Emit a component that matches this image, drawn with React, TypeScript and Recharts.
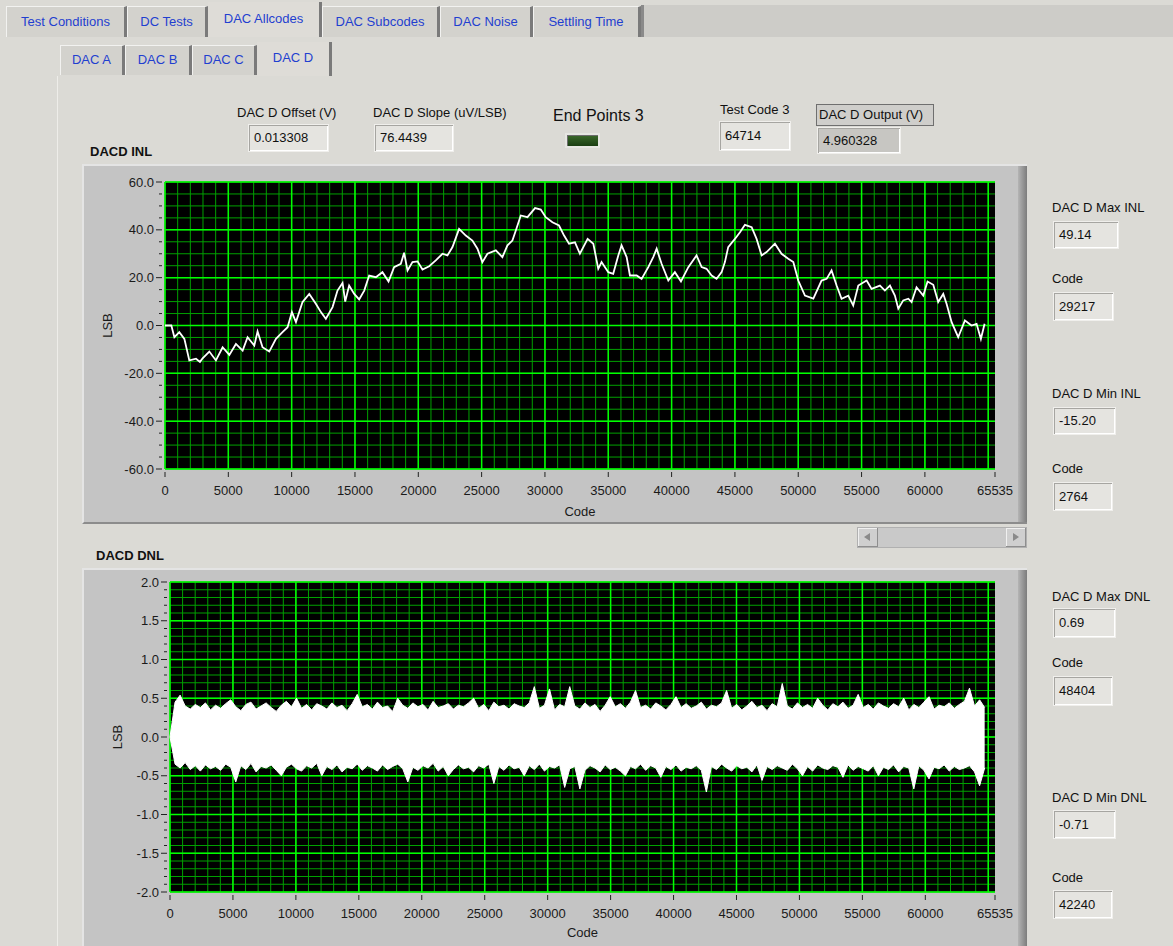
import React from "react";
import { LineChart, Line, AreaChart, Area, XAxis, YAxis, CartesianGrid, Label } from "recharts";

// ---- data ----
const INL_CODES = [
  0, 500, 740, 1130, 1530, 1920, 2450, 2760, 2970, 3500,
  4020, 4550, 5080, 5600, 6130, 6520, 7050, 7310, 7700, 8230,
  8760, 9280, 9680, 10020, 10340, 10860, 11390, 11910, 12310, 12700,
  13230, 13620, 14020, 14230, 14540, 14940, 15330, 15730, 16120, 16650,
  17170, 17650, 18090, 18620, 18880, 19150, 19540, 19940, 20330, 20860,
  21380, 21910, 22300, 22700, 23220, 23750, 24270, 24670, 25060, 25460,
  26120, 26640, 27040, 27430, 27700, 28090, 28620, 29220, 29670, 30060,
  30590, 31110, 31510, 31900, 32370, 32760, 33370, 33820, 34210, 34470,
  35000, 35390, 35790, 36050, 36450, 36710, 37240, 37630, 38160, 38550,
  38820, 39210, 39740, 40260, 40740, 41320, 41970, 42370, 42760, 43160,
  43550, 43950, 44210, 44470, 45000, 45400, 45790, 46320, 46710, 47110,
  47500, 48160, 48680, 49210, 49610, 50000, 50530, 51190, 51840, 52240,
  52630, 53030, 53420, 53950, 54340, 54740, 55400, 55790, 56450, 56840,
  57240, 57630, 57900, 58290, 58690, 58950, 59340, 59870, 60210, 60660,
  61050, 61450, 61710, 62110, 62630, 63160, 63680, 64080, 64420, 64714,
];
const INL_VALUES = [
  0, 0, -4.9, -2.8, -5.6, -14.6, -13.9, -15.2, -13.7, -10.9,
  -14.6, -9.1, -12.3, -7.7, -10.5, -4.9, -8.4, -2.5, -9.1, -10.9,
  -5.6, -2.8, -0.7, 5.6, 1.4, 9.8, 13.2, 9.1, 5.6, 2.8,
  7.7, 14.6, 17.8, 10.0, 16.7, 13.2, 10.9, 14.6, 20.9, 20.2,
  22.3, 18.4, 24.4, 25.8, 30.4, 23.0, 26.5, 26.8, 23.4, 24.8,
  27.2, 30.0, 29.3, 32.8, 40.4, 37.6, 35.5, 32.1, 26.5, 30.0,
  31.4, 28.6, 33.5, 35.5, 39.7, 46.0, 45.3, 49.1, 48.5, 45.3,
  43.2, 41.8, 37.6, 34.2, 34.8, 30.0, 36.2, 34.2, 23.7, 26.5,
  22.3, 21.6, 29.3, 33.5, 28.6, 20.9, 20.9, 19.5, 24.4, 28.6,
  32.1, 25.8, 18.8, 22.3, 18.4, 24.4, 29.3, 24.4, 23.7, 20.9,
  19.5, 22.3, 26.5, 32.8, 36.2, 39.0, 42.1, 41.1, 36.2, 29.3,
  30.7, 34.2, 30.0, 27.9, 26.5, 18.8, 12.5, 11.2, 18.8, 19.5,
  23.0, 16.7, 11.2, 12.5, 8.4, 16.7, 18.8, 15.3, 16.7, 14.6,
  16.7, 12.5, 7.0, 10.5, 11.2, 9.8, 16.0, 12.5, 18.4, 17.0,
  9.8, 13.2, 9.1, 1.4, -4.9, 2.1, 0.0, 0.7, -5.6, 0.7,
];

// DNL envelope (upper / lower edge), codes evenly spaced up to the last code
const DNL_LAST_CODE = 64714;
const DNL_HIGH = [
  0, 0.45, 0.54, 0.40, 0.36, 0.42, 0.38, 0.44, 0.35, 0.41,
  0.37, 0.43, 0.48, 0.39, 0.34, 0.42, 0.45, 0.36, 0.40, 0.44,
  0.38, 0.33, 0.41, 0.46, 0.39, 0.50, 0.37, 0.42, 0.35, 0.43,
  0.40, 0.36, 0.44, 0.38, 0.41, 0.34, 0.43, 0.55, 0.39, 0.42,
  0.36, 0.45, 0.38, 0.40, 0.33, 0.50, 0.41, 0.37, 0.44, 0.39,
  0.42, 0.35, 0.46, 0.38, 0.40, 0.43, 0.36, 0.41, 0.39, 0.44,
  0.50, 0.37, 0.42, 0.34, 0.45, 0.39, 0.41, 0.36, 0.43, 0.40,
  0.38, 0.44, 0.65, 0.37, 0.41, 0.62, 0.35, 0.42, 0.39, 0.65,
  0.40, 0.36, 0.44, 0.38, 0.42, 0.33, 0.41, 0.52, 0.39, 0.43,
  0.37, 0.45, 0.60, 0.38, 0.41, 0.36, 0.44, 0.40, 0.35, 0.42,
  0.52, 0.38, 0.43, 0.37, 0.40, 0.45, 0.36, 0.41, 0.39, 0.44,
  0.60, 0.37, 0.42, 0.35, 0.40, 0.46, 0.38, 0.41, 0.34, 0.43,
  0.39, 0.69, 0.40, 0.36, 0.44, 0.38, 0.42, 0.37, 0.50, 0.41,
  0.35, 0.43, 0.39, 0.45, 0.37, 0.41, 0.55, 0.38, 0.42, 0.36,
  0.44, 0.40, 0.37, 0.43, 0.39, 0.50, 0.35, 0.42, 0.38, 0.45,
  0.52, 0.36, 0.41, 0.39, 0.44, 0.37, 0.42, 0.46, 0.63, 0.40,
  0.48, 0.38,
];
const DNL_LOW = [
  0, -0.35, -0.40, -0.33, -0.42, -0.37, -0.44, -0.36, -0.41, -0.38,
  -0.43, -0.35, -0.39, -0.58, -0.37, -0.42, -0.34, -0.45, -0.38, -0.40,
  -0.36, -0.43, -0.50, -0.39, -0.35, -0.41, -0.44, -0.37, -0.40, -0.34,
  -0.50, -0.38, -0.42, -0.36, -0.45, -0.39, -0.41, -0.35, -0.43, -0.37,
  -0.40, -0.44, -0.36, -0.42, -0.38, -0.35, -0.41, -0.58, -0.39, -0.43,
  -0.37, -0.40, -0.34, -0.44, -0.38, -0.50, -0.42, -0.36, -0.41, -0.39,
  -0.45, -0.37, -0.40, -0.35, -0.60, -0.38, -0.43, -0.36, -0.41, -0.39,
  -0.50, -0.37, -0.42, -0.35, -0.44, -0.38, -0.40, -0.36, -0.65, -0.41,
  -0.38, -0.67, -0.43, -0.37, -0.40, -0.45, -0.36, -0.42, -0.39, -0.44,
  -0.50, -0.38, -0.41, -0.35, -0.43, -0.37, -0.40, -0.52, -0.38, -0.42,
  -0.36, -0.44, -0.39, -0.41, -0.37, -0.43, -0.71, -0.38, -0.42, -0.35,
  -0.40, -0.44, -0.37, -0.41, -0.39, -0.45, -0.36, -0.56, -0.38, -0.42,
  -0.37, -0.40, -0.43, -0.35, -0.41, -0.50, -0.38, -0.44, -0.36, -0.40,
  -0.42, -0.37, -0.39, -0.52, -0.36, -0.43, -0.38, -0.41, -0.44, -0.37,
  -0.50, -0.39, -0.42, -0.36, -0.45, -0.38, -0.40, -0.67, -0.37, -0.43,
  -0.54, -0.39, -0.41, -0.36, -0.44, -0.38, -0.42, -0.40, -0.37, -0.45,
  -0.63, -0.40,
];

const X_LABELS = [0, 5000, 10000, 15000, 20000, 25000, 30000, 35000, 40000, 45000, 50000, 55000, 60000, 65535];
const INL_Y_LABELS = [-60, -40, -20, 0, 20, 40, 60];
const DNL_Y_LABELS = [-2, -1.5, -1, -0.5, 0, 0.5, 1, 1.5, 2];

const TOP_TABS = ["Test Conditions", "DC Tests", "DAC Allcodes", "DAC Subcodes", "DAC Noise", "Settling Time"];
const SUB_TABS = ["DAC A", "DAC B", "DAC C", "DAC D"];

// grid / tick helpers
const steps = (from: number, to: number, step: number) => {
  const out: number[] = [];
  const n = Math.round((to - from) / step);
  for (let i = 0; i <= n; i++) out.push(Math.round((from + i * step) * 1000) / 1000);
  return out;
};
const X_MINOR = steps(0, 65000, 1000);
const X_MAJOR = steps(0, 65000, 5000);
const INL_Y_MINOR = steps(-60, 60, 5);
const DNL_Y_MINOR = steps(-2, 2, 0.1);

const inlData = INL_CODES.map((code, i) => ({ code, inl: INL_VALUES[i] }));
const dnlData = DNL_HIGH.map((hi, i) => ({
  code: Math.round((i * DNL_LAST_CODE) / (DNL_HIGH.length - 1)),
  band: [DNL_LOW[i], hi],
}));

const FONT = '"Liberation Sans", Arial, sans-serif';
const BG = "#dbdad5";
const FRAME = "#c4c4c4";
const MINOR = "#00a000";
const MAJOR = "#00ff00";
const TAB_BLUE = "#1f3fd0";

const XTick = ({ x, y, payload }: any) => (
  <g>
    <line x1={x} x2={x} y1={y + 3} y2={y + 8} stroke="#222" />
    <text x={x} y={y + 26} textAnchor="middle" fontSize={13} fontFamily={FONT} fill="#1a1a1a">
      {payload.value}
    </text>
  </g>
);

const makeYTick = (isMajor: (v: number) => boolean, fmt: (v: number) => string) =>
  ({ x, y, payload }: any) => {
    const v = payload.value as number;
    const major = isMajor(v);
    return (
      <g>
        <line x1={major ? x - 9 : x - 6} x2={x - 3} y1={y} y2={y} stroke="#222" />
        {major && (
          <text x={x - 11} y={y + 4.5} textAnchor="end" fontSize={13} fontFamily={FONT} fill="#1a1a1a">
            {fmt(v)}
          </text>
        )}
      </g>
    );
  };

const inlYTick = makeYTick((v) => Math.round(v) % 20 === 0, (v) => v.toFixed(1));
const dnlYTick = makeYTick((v) => Math.round(v * 10) % 5 === 0, (v) => v.toFixed(1));

function Field({ left, top, width, height = 27, value, dark }: any) {
  return (
    <div
      style={{
        position: "absolute", left, top, width, height, boxSizing: "border-box",
        border: "1px solid #f0efec", boxShadow: "inset 1px 1px 0 #a6a5a1, inset -1px -1px 0 #ffffff",
        background: dark ? "#c7c6c2" : "#e5e4e0", padding: "0 5px", fontSize: 13,
        lineHeight: `${height - 2}px`, color: "#111",
      }}
    >
      {value}
    </div>
  );
}

function Text({ left, top, children, size = 13, bold }: any) {
  return (
    <div style={{ position: "absolute", left, top, fontSize: size, fontWeight: bold ? 700 : 400, color: "#111", whiteSpace: "nowrap", lineHeight: "16px" }}>
      {children}
    </div>
  );
}

function GraphFrame({ left, top, width, height }: any) {
  return (
    <div style={{ position: "absolute", left, top, width, height, boxSizing: "border-box", background: FRAME, borderTop: "2px solid #e4e4e4", borderLeft: "2px solid #e4e4e4", borderBottom: "2px solid #8c8c8c" }}>
      <div style={{ position: "absolute", right: 0, top: 0, bottom: 0, width: 9, background: "linear-gradient(to right, #b4b4b4, #7c7c7c)" }} />
    </div>
  );
}

function Tab({ left, top, width, height, label, selected }: any) {
  return (
    <div
      style={{
        position: "absolute", left, top, width, height, boxSizing: "border-box",
        background: selected ? "#dedcd7" : "#d3d2cd",
        borderTop: selected ? "none" : "1px solid #f2f2f0",
        borderLeft: selected ? "none" : "1px solid #f2f2f0",
        borderRight: "3px solid #7a7a7a",
        color: TAB_BLUE, fontSize: 13, textAlign: "center", lineHeight: `${height - 2}px`,
      }}
    >
      {label}
    </div>
  );
}

export default function App() {
  const topTabX = [6, 127, 208, 322, 440, 533, 641];
  const subTabX = [60, 125, 192, 257, 332];
  return (
    <div style={{ position: "absolute", left: 0, top: 0, width: 1173, height: 946, background: BG, overflow: "hidden", fontFamily: FONT }}>
      {/* top tab strip */}
      <div style={{ position: "absolute", left: 641, top: 5, width: 532, height: 32, background: "#cdccc8", borderLeft: "3px solid #8a8a8a" }} />
      {TOP_TABS.map((t, i) => (
        <Tab key={t} left={topTabX[i]} top={i === 2 ? 2 : 6} width={topTabX[i + 1] - topTabX[i]} height={i === 2 ? 35 : 31} label={t} selected={i === 2} />
      ))}
      {/* sub tabs */}
      {SUB_TABS.map((t, i) => (
        <Tab key={t} left={subTabX[i]} top={i === 3 ? 42 : 45} width={subTabX[i + 1] - subTabX[i]} height={i === 3 ? 34 : 30} label={t} selected={i === 3} />
      ))}
      <div style={{ position: "absolute", left: 57, top: 76, width: 1, height: 870, background: "#eeede9" }} />

      {/* header indicators */}
      <Text left={237} top={105}>DAC D Offset (V)</Text>
      <Field left={248} top={124} width={81} height={28} value="0.013308" />
      <Text left={373} top={105}>DAC D Slope (uV/LSB)</Text>
      <Field left={374} top={124} width={80} height={28} value="76.4439" />
      <Text left={553} top={108} size={16}>End Points 3</Text>
      <div style={{ position: "absolute", left: 565, top: 133, width: 35, height: 15, boxSizing: "border-box", border: "2px solid #e6e6e2", boxShadow: "inset 1px 1px 0 #6c6c6c", background: "linear-gradient(#3c6a2c, #1a3e12)" }} />
      <Text left={720} top={102}>Test Code 3</Text>
      <Field left={719} top={121} width={72} height={30} value="64714" />
      <div style={{ position: "absolute", left: 816, top: 104, width: 118, height: 22, boxSizing: "border-box", border: "1px solid #6f6f6f", background: "#cfcecb", fontSize: 13, lineHeight: "20px", paddingLeft: 2, color: "#111", whiteSpace: "nowrap" }}>DAC D Output (V)</div>
      <Field left={817} top={127} width={84} height={27} value="4.960328" dark />

      {/* INL graph */}
      <Text left={90} top={144} bold>DACD INL</Text>
      <GraphFrame left={82} top={164} width={945} height={360} />
      <div style={{ position: "absolute", left: 82, top: 164 }}>
        <LineChart width={945} height={360} data={inlData} margin={{ top: 18, right: 32, bottom: 0, left: 23 }}>
          <CartesianGrid fill="#000" stroke={MINOR} strokeWidth={1} horizontalValues={INL_Y_MINOR} verticalValues={X_MINOR} />
          <CartesianGrid stroke={MAJOR} strokeWidth={1.5} horizontalValues={INL_Y_LABELS} verticalValues={X_MAJOR} />
          <XAxis type="number" dataKey="code" domain={[0, 65535]} ticks={X_LABELS} interval={0} height={55}
            axisLine={false} tickLine={false} tickSize={0} tickMargin={0} tick={XTick}>
            <Label value="Code" position="insideBottom" offset={8} style={{ fontSize: 13, fontFamily: FONT, fill: "#1a1a1a" }} />
          </XAxis>
          <YAxis type="number" domain={[-60, 60]} ticks={INL_Y_MINOR} interval={0} width={60}
            axisLine={false} tickLine={false} tickSize={0} tickMargin={0} tick={inlYTick} allowDataOverflow>
            <Label value="LSB" angle={-90} position="center" dx={-28} style={{ fontSize: 13, fontFamily: FONT, fill: "#1a1a1a" }} />
          </YAxis>
          <Line type="linear" dataKey="inl" stroke="#ffffff" strokeWidth={1.8} dot={false} isAnimationActive={false} />
        </LineChart>
      </div>

      {/* scrollbar */}
      <div style={{ position: "absolute", left: 857, top: 527, width: 170, height: 21, background: "#c9c9c9", boxSizing: "border-box", border: "1px solid #b0b0b0" }}>
        <div style={{ position: "absolute", left: 0, top: 0, width: 20, height: 19, background: "#cfcfcf", boxShadow: "inset -1px -1px 0 #8e8e8e, inset 1px 1px 0 #f0f0f0" }}>
          <div style={{ position: "absolute", left: 6, top: 5, width: 0, height: 0, borderTop: "4px solid transparent", borderBottom: "4px solid transparent", borderRight: "6px solid #8a8a8a" }} />
        </div>
        <div style={{ position: "absolute", right: 0, top: 0, width: 20, height: 19, background: "#cfcfcf", boxShadow: "inset -1px -1px 0 #8e8e8e, inset 1px 1px 0 #f0f0f0" }}>
          <div style={{ position: "absolute", left: 7, top: 5, width: 0, height: 0, borderTop: "4px solid transparent", borderBottom: "4px solid transparent", borderLeft: "6px solid #8a8a8a" }} />
        </div>
      </div>

      {/* DNL graph */}
      <Text left={96} top={548} bold>DACD DNL</Text>
      <GraphFrame left={82} top={568} width={945} height={380} />
      <div style={{ position: "absolute", left: 82, top: 568 }}>
        <AreaChart width={945} height={378} data={dnlData} margin={{ top: 14, right: 32, bottom: 0, left: 28 }}>
          <CartesianGrid fill="#000" stroke={MINOR} strokeWidth={1} horizontalValues={DNL_Y_MINOR} verticalValues={X_MINOR} />
          <CartesianGrid stroke={MAJOR} strokeWidth={1.5} horizontalValues={DNL_Y_LABELS} verticalValues={X_MAJOR} />
          <XAxis type="number" dataKey="code" domain={[0, 65535]} ticks={X_LABELS} interval={0} height={54}
            axisLine={false} tickLine={false} tickSize={0} tickMargin={0} tick={XTick}>
            <Label value="Code" position="insideBottom" offset={9} style={{ fontSize: 13, fontFamily: FONT, fill: "#1a1a1a" }} />
          </XAxis>
          <YAxis type="number" domain={[-2, 2]} ticks={DNL_Y_MINOR} interval={0} width={60}
            axisLine={false} tickLine={false} tickSize={0} tickMargin={0} tick={dnlYTick} allowDataOverflow>
            <Label value="LSB" angle={-90} position="center" dx={-23} style={{ fontSize: 13, fontFamily: FONT, fill: "#1a1a1a" }} />
          </YAxis>
          <Area type="linear" dataKey="band" stroke="#ffffff" strokeWidth={1} fill="#ffffff" fillOpacity={1} isAnimationActive={false} />
        </AreaChart>
      </div>

      {/* right column */}
      <Text left={1052} top={200}>DAC D Max INL</Text>
      <Field left={1053} top={221} width={66} height={28} value="49.14" />
      <Text left={1052} top={271}>Code</Text>
      <Field left={1053} top={292} width={61} height={29} value="29217" />
      <Text left={1052} top={386}>DAC D Min INL</Text>
      <Field left={1053} top={407} width={63} height={28} value="-15.20" />
      <Text left={1052} top={461}>Code</Text>
      <Field left={1053} top={482} width={60} height={29} value="2764" />
      <Text left={1052} top={589}>DAC D Max DNL</Text>
      <Field left={1053} top={608} width={63} height={30} value="0.69" />
      <Text left={1052} top={655}>Code</Text>
      <Field left={1053} top={676} width={60} height={30} value="48404" />
      <Text left={1052} top={790}>DAC D Min DNL</Text>
      <Field left={1053} top={810} width={63} height={29} value="-0.71" />
      <Text left={1052} top={870}>Code</Text>
      <Field left={1053} top={890} width={60} height={29} value="42240" />
    </div>
  );
}
